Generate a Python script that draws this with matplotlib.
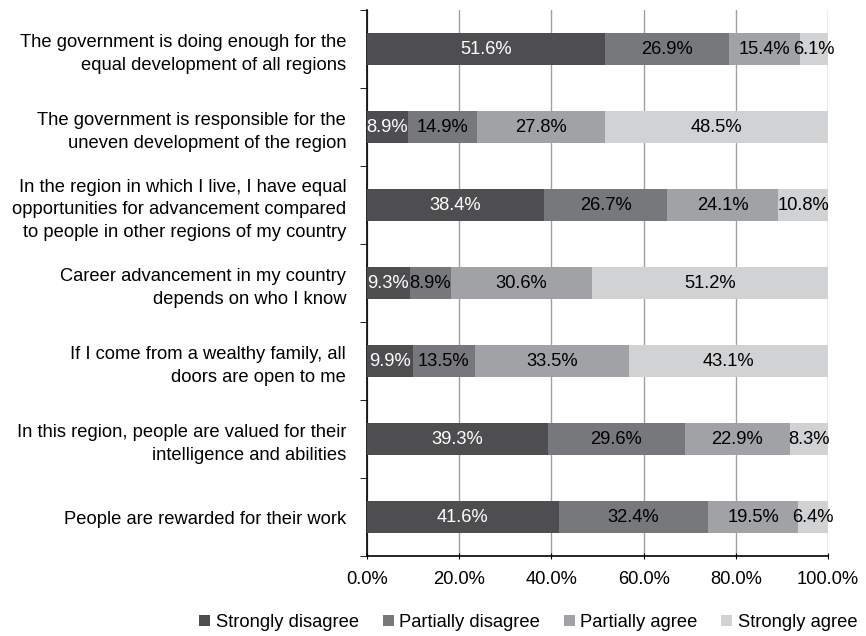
import matplotlib.pyplot as plt
import numpy as np
from matplotlib.ticker import PercentFormatter

plt.rcParams['font.family'] = ['Liberation Sans', 'DejaVu Sans']

statements = [
    "The government is doing enough for the\nequal development of all regions",
    "The government is responsible for the\nuneven development of the region",
    "In the region in which I live, I have equal\nopportunities for advancement compared\nto people in other regions of my country",
    "Career advancement in my country\ndepends on who I know",
    "If I come from a wealthy family, all\ndoors are open to me",
    "In this region, people are valued for their\nintelligence and abilities",
    "People are rewarded for their work",
]
strongly_disagree = [51.6, 8.9, 38.4, 9.3, 9.9, 39.3, 41.6]
partially_disagree = [26.9, 14.9, 26.7, 8.9, 13.5, 29.6, 32.4]
partially_agree = [15.4, 27.8, 24.1, 30.6, 33.5, 22.9, 19.5]
strongly_agree = [6.1, 48.5, 10.8, 51.2, 43.1, 8.3, 6.4]

series = [
    ("Strongly disagree", strongly_disagree, '#4e4e50', 'white'),
    ("Partially disagree", partially_disagree, '#77787b', 'black'),
    ("Partially agree", partially_agree, '#a1a2a5', 'black'),
    ("Strongly agree", strongly_agree, '#d1d2d4', 'black'),
]

FS = 13.2

fig = plt.figure(figsize=(8.66, 6.36), dpi=100)
ax = fig.add_axes([367 / 866, 80 / 636, 461 / 866, 546 / 636])

y = np.arange(len(statements))
left = np.zeros(len(statements))
for name, vals, color, tcol in series:
    vals = np.array(vals)
    ax.barh(y, vals, height=0.41, left=left, color=color, label=name, zorder=3)
    for yi, l, v in zip(y, left, vals):
        ax.text(l + v / 2, yi, f"{v:.1f}%", ha='center', va='center',
                color=tcol, fontsize=FS, zorder=4)
    left += vals

ax.set_xlim(0, 100)
ax.set_ylim(len(statements) - 0.5, -0.5)
ax.set_xticks(np.arange(0, 101, 20))
ax.xaxis.set_major_formatter(PercentFormatter(decimals=1))
ax.grid(axis='x', color='#a0a0a0', linewidth=1, zorder=0)
ax.set_yticks(y)
ax.set_yticklabels(statements, fontsize=FS, ha='right', linespacing=1.45)
ax.tick_params(axis='y', length=0, pad=15)
ax.set_yticks(np.arange(-0.5, len(statements) + 0.5, 1), minor=True)
ax.tick_params(axis='y', which='minor', length=5, direction='out')
ax.tick_params(axis='x', length=5, direction='inout', labelsize=FS, pad=8)
for s in ['top', 'right']:
    ax.spines[s].set_visible(False)
ax.spines['left'].set_linewidth(1.2)
ax.spines['bottom'].set_linewidth(1.2)

ax.legend(loc='center', bbox_to_anchor=(0.35, -0.122), ncol=4, frameon=False,
          fontsize=FS, handlelength=0.6, handleheight=0.6, handletextpad=0.3,
          columnspacing=1.3)

plt.savefig("out.png", dpi=100)
